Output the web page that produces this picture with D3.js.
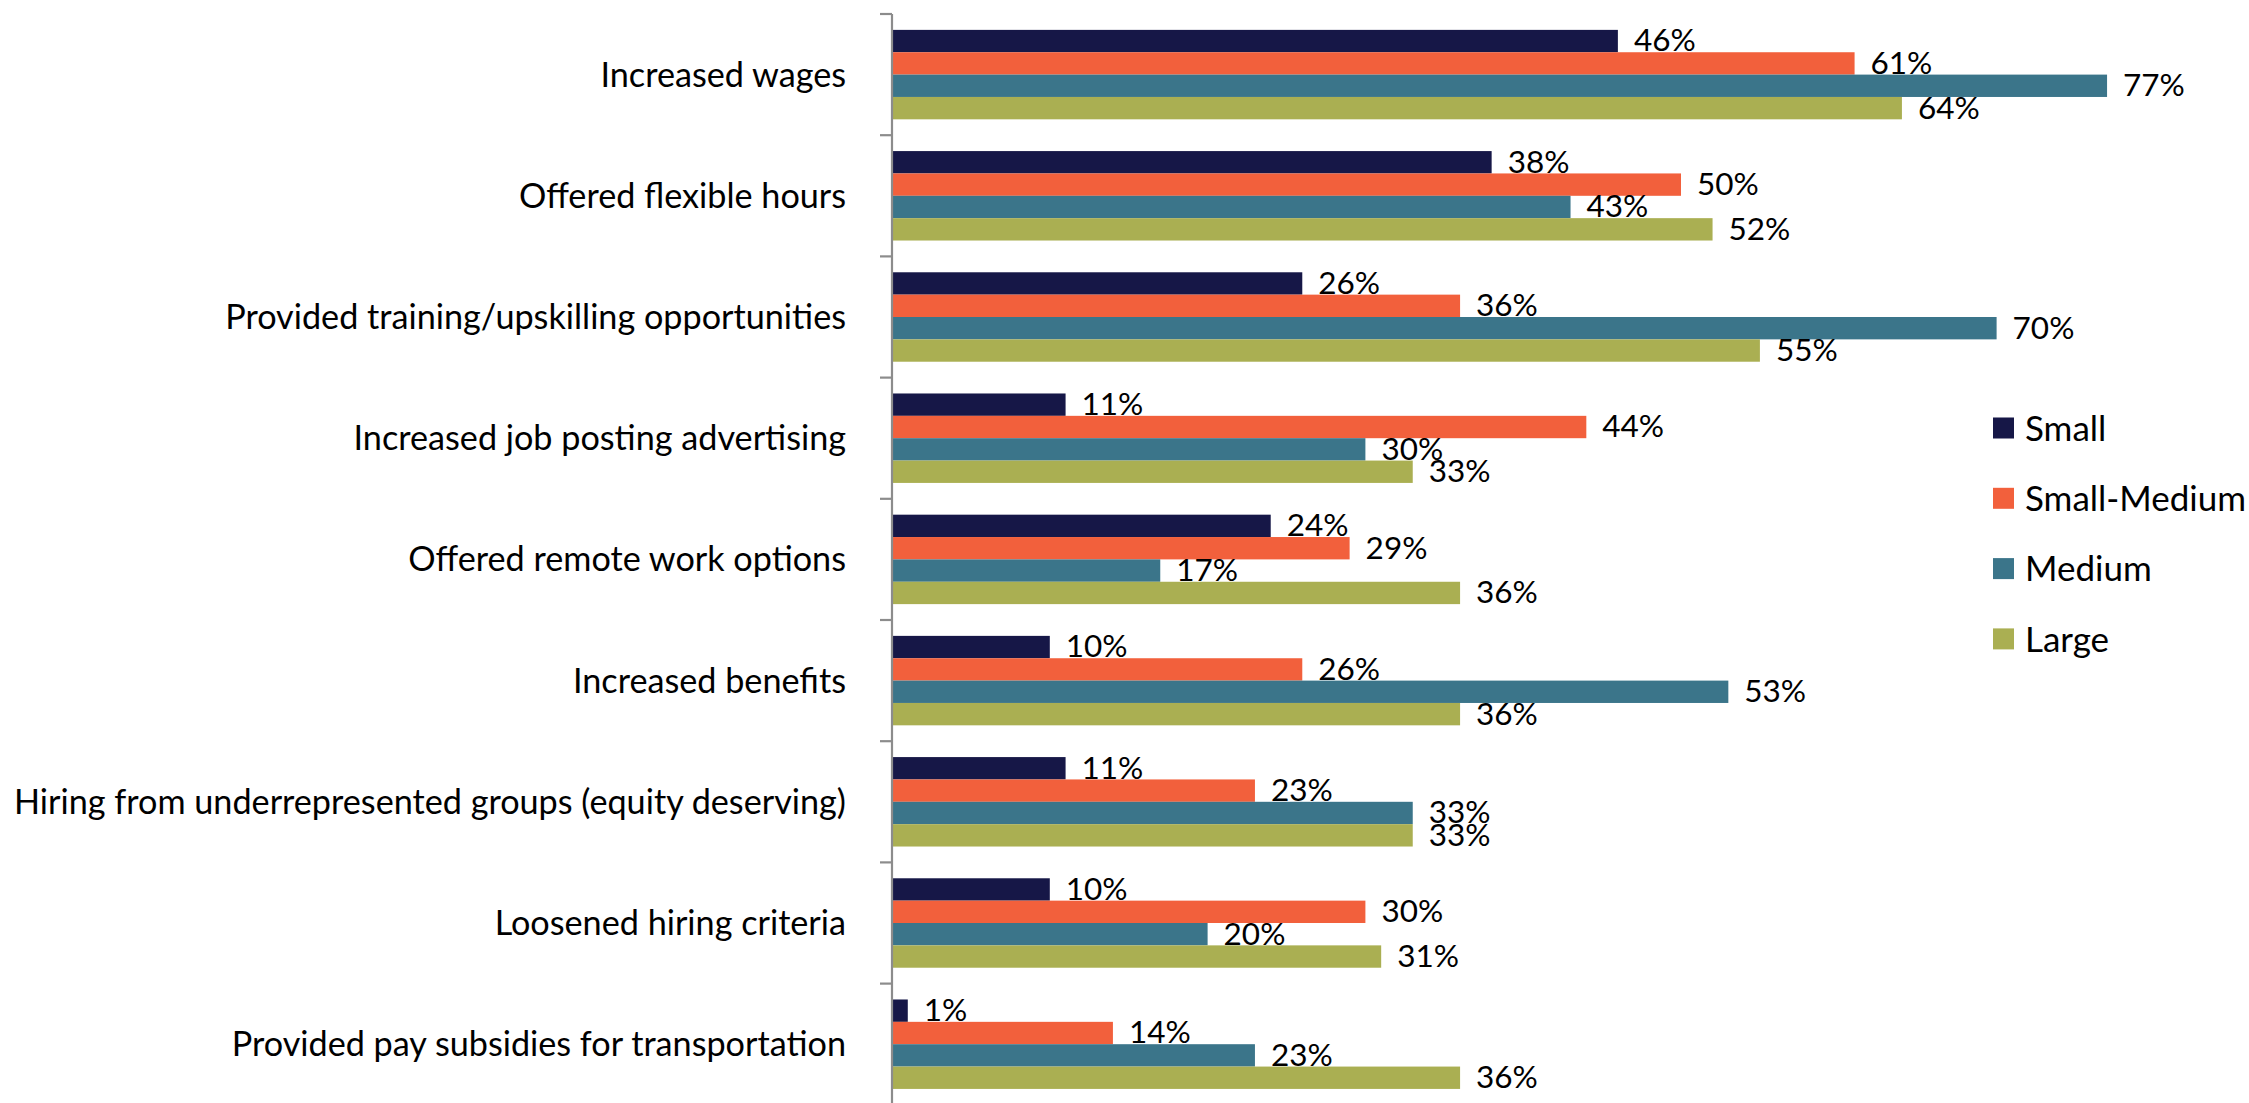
<!DOCTYPE html>
<html>
<head>
<meta charset="utf-8">
<script src="https://cdn.jsdelivr.net/npm/d3@7"></script>
<style>
  html, body { margin: 0; padding: 0; background: #ffffff; }
  svg { display: block; }
  text { font-family: Lato, "Open Sans", sans-serif; fill: #000; }
</style>
</head>
<body>
<svg id="chart" width="2249" height="1103"></svg>
<script>
// Recruitment / retention actions taken, by business size
const categories = [
  "Increased wages",
  "Offered flexible hours",
  "Provided training/upskilling opportunities",
  "Increased job posting advertising",
  "Offered remote work options",
  "Increased benefits",
  "Hiring from underrepresented groups (equity deserving)",
  "Loosened hiring criteria",
  "Provided pay subsidies for transportation"
];
const seriesNames = ["Small", "Small-Medium", "Medium", "Large"];
const small       = [46, 38, 26, 11, 24, 10, 11, 10, 1];
const smallMedium = [61, 50, 36, 44, 29, 26, 23, 30, 14];
const medium      = [77, 43, 70, 30, 17, 53, 33, 20, 23];
const large       = [64, 52, 55, 33, 36, 36, 33, 31, 36];
const seriesValues = [small, smallMedium, medium, large];
const colors = ["#161747", "#F2603C", "#3B758A", "#AAAF52"];
const xDomainMax = 80;

const svg = d3.select("#chart");

const axisX = 892;
const plotTop = 14;
const step = 121.2;

const x = d3.scaleLinear().domain([0, xDomainMax]).range([axisX, axisX + 15.78 * xDomainMax]);
const y = d3.scaleBand()
  .domain(categories)
  .range([plotTop, plotTop + step * categories.length])
  .paddingInner(0.262)
  .paddingOuter(0.131);
const ySeries = d3.scaleBand().domain(seriesNames).range([0, y.bandwidth()]);

const rows = categories.map((c, i) => ({
  category: c,
  values: seriesNames.map((s, j) => ({ series: s, idx: j, value: seriesValues[j][i] }))
}));

// bars
const groups = svg.append("g").selectAll("g.cat")
  .data(rows).join("g")
  .attr("class", "cat")
  .attr("transform", d => `translate(0,${y(d.category)})`);

groups.selectAll("rect")
  .data(d => d.values).join("rect")
  .attr("x", x(0))
  .attr("y", d => ySeries(d.series))
  .attr("width", d => x(d.value) - x(0))
  .attr("height", ySeries.bandwidth())
  .attr("fill", d => colors[d.idx]);

// value labels drawn above all bars
const labelLayer = svg.append("g");
labelLayer.selectAll("g")
  .data(rows).join("g")
  .attr("transform", d => `translate(0,${y(d.category)})`)
  .selectAll("text")
  .data(d => d.values).join("text")
  .attr("x", d => x(d.value) + 16)
  .attr("y", d => ySeries(d.series) + ySeries.bandwidth() / 2)
  .attr("dy", "0.33em")
  .attr("font-size", 31.5)
  .text(d => d.value + "%");

// category axis
const axisBand = d3.scaleLinear().domain([0, categories.length]).range([plotTop, plotTop + step * categories.length]);
const axisG = svg.append("g");
axisG.append("line")
  .attr("x1", axisX).attr("x2", axisX)
  .attr("y1", axisBand(0)).attr("y2", axisBand(categories.length))
  .attr("stroke", "#8c8c8c").attr("stroke-width", 2.2);
axisG.selectAll("line.tick")
  .data(d3.range(categories.length + 1)).join("line")
  .attr("class", "tick")
  .attr("x1", axisX - 12).attr("x2", axisX)
  .attr("y1", d => axisBand(d)).attr("y2", d => axisBand(d))
  .attr("stroke", "#8c8c8c").attr("stroke-width", 2.2);

axisG.selectAll("text")
  .data(categories).join("text")
  .attr("x", axisX - 46)
  .attr("y", d => y(d) + y.bandwidth() / 2)
  .attr("dy", "0.35em")
  .attr("text-anchor", "end")
  .attr("font-size", 34.2)
  .text(d => d);

// legend
const legend = svg.append("g").attr("transform", "translate(1993,428)");
const legendStep = 70.3;
const items = legend.selectAll("g")
  .data(seriesNames).join("g")
  .attr("transform", (d, i) => `translate(0,${i * legendStep})`);
items.append("rect")
  .attr("x", 0).attr("y", -10.5)
  .attr("width", 21).attr("height", 21)
  .attr("fill", (d, i) => colors[i]);
items.append("text")
  .attr("x", 32).attr("y", 0)
  .attr("dy", "0.36em")
  .attr("font-size", 35)
  .text(d => d);
</script>
</body>
</html>
